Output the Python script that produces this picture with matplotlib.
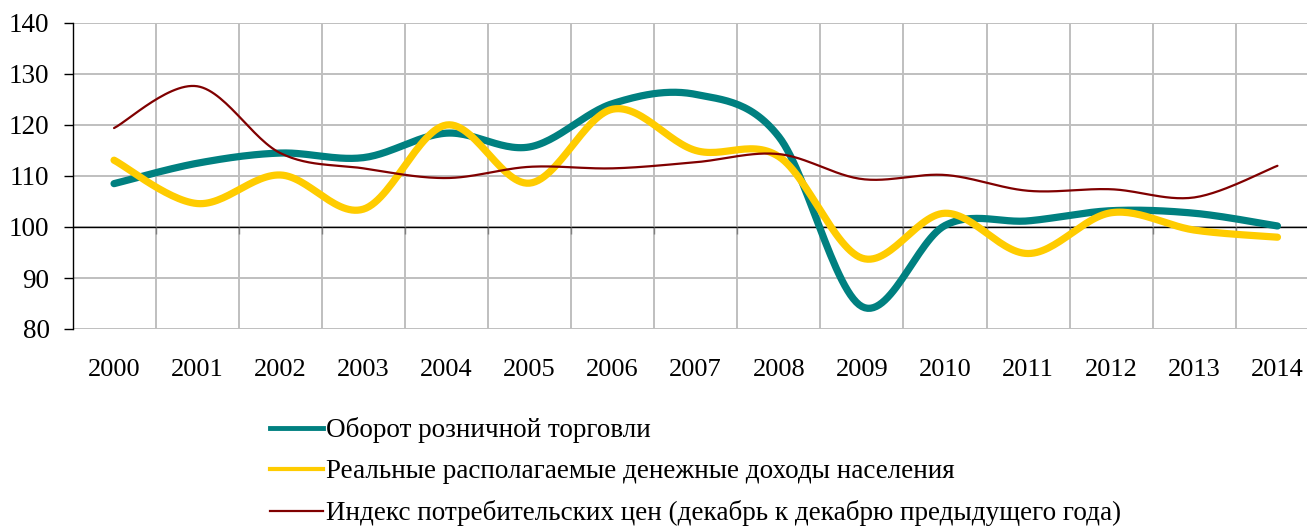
import numpy as np
import matplotlib.pyplot as plt
from matplotlib.lines import Line2D

# ---------------- данные ----------------
years = ["2000", "2001", "2002", "2003", "2004", "2005", "2006", "2007",
         "2008", "2009", "2010", "2011", "2012", "2013", "2014"]

oborot = [108.5, 112.5, 114.5, 113.6, 118.4, 115.7, 124.2, 126.0,
          117.7, 84.4, 100.3, 101.2, 103.2, 102.7, 100.2]
dohody = [113.1, 104.6, 110.2, 103.5, 120.0, 108.6, 123.1, 115.0,
          113.8, 93.9, 102.7, 94.8, 102.8, 99.4, 98.0]
ipc = [119.4, 127.6, 114.5, 111.5, 109.6, 111.8, 111.5, 112.7,
       114.3, 109.4, 110.2, 107.1, 107.4, 105.8, 112.0]

labels = ["Оборот розничной торговли",
          "Реальные располагаемые денежные доходы населения",
          "Индекс потребительских цен (декабрь к декабрю предыдущего года)"]
colors = ["#008080", "#FFCC00", "#800000"]
widths = [5.2, 5.2, 1.6]


def smooth(y, n=30):
    """Сглаживание как в Excel: кривые Безье через точки (Catmull-Rom)."""
    y = np.asarray(y, dtype=float)
    x = np.arange(len(y), dtype=float)
    px = np.concatenate([[x[0]], x, [x[-1]]])
    py = np.concatenate([[y[0]], y, [y[-1]]])
    xs, ys = [], []
    t = np.linspace(0, 1, n)
    for i in range(1, len(px) - 2):
        p0 = np.array([px[i], py[i]])
        p3 = np.array([px[i + 1], py[i + 1]])
        c1 = p0 + (np.array([px[i + 1], py[i + 1]]) - np.array([px[i - 1], py[i - 1]])) / 6
        c2 = p3 - (np.array([px[i + 2], py[i + 2]]) - p0) / 6
        b = ((1 - t) ** 3)[:, None] * p0 + (3 * (1 - t) ** 2 * t)[:, None] * c1 \
            + (3 * (1 - t) * t ** 2)[:, None] * c2 + (t ** 3)[:, None] * p3
        xs.extend(b[:, 0])
        ys.extend(b[:, 1])
    return np.array(xs), np.array(ys)


plt.rcParams["font.family"] = ["Liberation Serif", "DejaVu Serif"]

fig = plt.figure(figsize=(13.07, 5.27), dpi=100)
ax = fig.add_axes([72.5 / 1307, 198 / 527, 1246.5 / 1307, 306 / 527])

ax.set_xlim(-0.5, len(years) - 0.5)
ax.set_ylim(80, 140)

# сетка
for yv in range(80, 141, 10):
    ax.axhline(yv, color="#BFBFBF", lw=1.4, zorder=1)
for xv in np.arange(0.5, len(years), 1):
    ax.axvline(xv, color="#BFBFBF", lw=1.4, zorder=1)
ax.axhline(100, color="black", lw=1.0, zorder=2)
ax.vlines(np.arange(0.5, len(years), 1), 100 - 1.4, 100, color="#808080", lw=1.0, zorder=2)

for vals, c, w in zip([oborot, dohody, ipc], colors, widths):
    sx, sy = smooth(vals)
    ax.plot(sx, sy, color=c, lw=w, solid_capstyle="round", zorder=3)

for s in ["top", "right", "bottom"]:
    ax.spines[s].set_visible(False)
ax.spines["left"].set_color("black")
ax.spines["left"].set_linewidth(1.0)

ax.set_yticks(range(80, 141, 10))
ax.tick_params(axis="y", direction="out", length=6.5, width=1.0, pad=10, labelsize=19.5)
ax.set_xticks(range(len(years)))
ax.set_xticklabels(years)
ax.tick_params(axis="x", length=0, pad=21.5, labelsize=19)

handles = [Line2D([], [], color=colors[0], lw=3.5),
           Line2D([], [], color=colors[1], lw=3.0),
           Line2D([], [], color=colors[2], lw=1.6)]
fig.legend(handles, labels, loc="upper left", bbox_to_anchor=(270 / 1307, 1 - 417 / 527),
           frameon=False, fontsize=19.5, handlelength=1.95, handletextpad=0.1,
           labelspacing=0.6, borderaxespad=0, borderpad=0)

plt.savefig("out.png", dpi=100)
